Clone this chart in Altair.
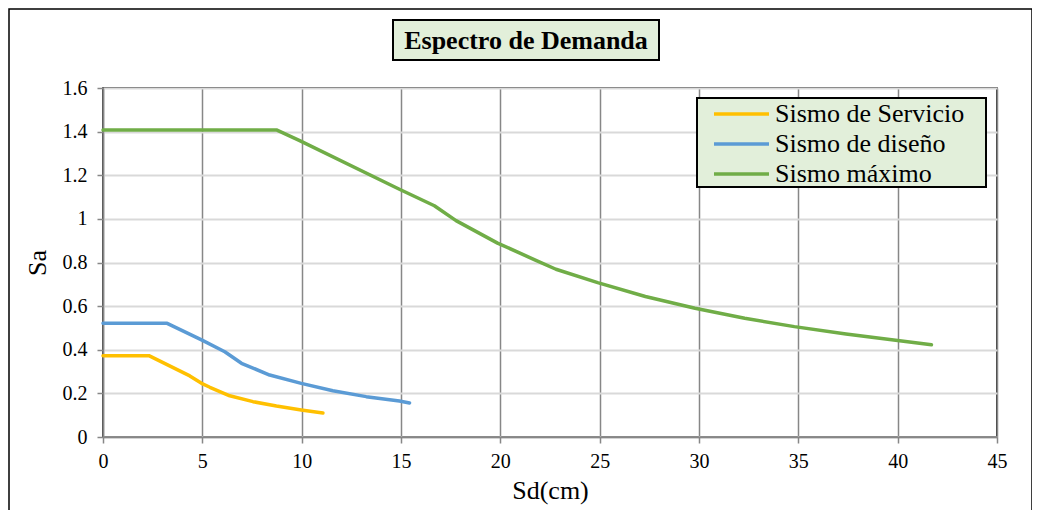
import altair as alt
import pandas as pd

series_names = ["Sismo de Servicio", "Sismo de diseño", "Sismo máximo"]
series_colors = ["#FFC000", "#5B9BD5", "#70AD47"]

servicio_sd = [0, 2.31, 4.37, 4.96, 5.38, 6.38, 7.55, 8.73, 9.98, 11.07]
servicio_sa = [0.373, 0.373, 0.28, 0.246, 0.228, 0.189, 0.162, 0.142, 0.124, 0.110]

diseno_sd = [0, 3.23, 4.96, 6.13, 6.97, 8.39, 9.98, 11.57, 13.25, 14.92, 15.43]
diseno_sa = [0.521, 0.521, 0.445, 0.391, 0.338, 0.284, 0.246, 0.212, 0.185, 0.165, 0.156]

maximo_sd = [0, 8.73, 9.9, 14.92, 16.68, 17.77, 19.86, 21.79, 22.8, 24.9, 27.3, 29.8, 32.3, 34.8, 37.4, 39.8, 41.7]
maximo_sa = [1.408, 1.408, 1.359, 1.136, 1.06, 0.992, 0.889, 0.81, 0.769, 0.708, 0.644, 0.59, 0.544, 0.506, 0.472, 0.445, 0.423]

x_ticks = [0, 5, 10, 15, 20, 25, 30, 35, 40, 45]
y_ticks = [0, 0.2, 0.4, 0.6, 0.8, 1.0, 1.2, 1.4, 1.6]

chart_title = "Espectro de Demanda"

rows = []
for name, sds, sas in zip(series_names,
                          [servicio_sd, diseno_sd, maximo_sd],
                          [servicio_sa, diseno_sa, maximo_sa]):
    for i, (a, b) in enumerate(zip(sds, sas)):
        rows.append({"serie": name, "Sd": a, "Sa": b, "orden": i})
df = pd.DataFrame(rows)

SERIF = "Liberation Serif"
GRID_DARK = "#878787"
BOX_FILL = "#E2EFDA"

common_axis = dict(
    domainColor=GRID_DARK, domainWidth=1.5,
    tickColor=GRID_DARK, tickSize=6, tickWidth=1.5,
    labelFont=SERIF, labelFontSize=20, labelColor="black", labelFlush=False,
    titleFont=SERIF, titleFontSize=26, titleFontWeight="normal", titleColor="black",
)

title_df = pd.DataFrame({"t": [chart_title]})

# legend background box (decoration behind the legend entries)
legend_box = alt.Chart(title_df).mark_rect(fill=BOX_FILL, stroke="black", strokeWidth=2).encode(
    x=alt.value(594), x2=alt.value(883), y=alt.value(10), y2=alt.value(99))

lines = alt.Chart(df).mark_line(strokeWidth=3.5, strokeCap="round", strokeJoin="round").encode(
    x=alt.X("Sd:Q",
            scale=alt.Scale(domain=[0, 45], nice=False, zero=False),
            axis=alt.Axis(values=x_ticks, title="Sd(cm)", format="~g",
                          gridColor=GRID_DARK, gridWidth=1.5,
                          labelPadding=8, titlePadding=6, **common_axis)),
    y=alt.Y("Sa:Q",
            scale=alt.Scale(domain=[0, 1.6], nice=False),
            axis=alt.Axis(values=y_ticks, title="Sa", format="~g",
                          gridColor="#D9D9D9", gridWidth=2,
                          labelPadding=10, titlePadding=12, **common_axis)),
    color=alt.Color("serie:N",
                    scale=alt.Scale(domain=series_names, range=series_colors),
                    legend=alt.Legend(title=None, orient="none", legendX=590, legendY=10,
                                      padding=3, rowPadding=4,
                                      symbolType="M0.714,0H8.571", symbolSize=196,
                                      symbolStrokeWidth=3.5, labelOffset=53,
                                      labelLimit=400,
                                      labelFont=SERIF, labelFontSize=26, labelColor="black")),
    order="orden:Q",
)

title_box = alt.Chart(title_df).mark_rect(fill=BOX_FILL, stroke="black", strokeWidth=2).encode(
    x=alt.value(290), x2=alt.value(556), y=alt.value(-68), y2=alt.value(-28))
title_text = alt.Chart(title_df).mark_text(font=SERIF, fontSize=26, fontWeight="bold", color="black",
                                           baseline="middle", align="center").encode(
    x=alt.value(423), y=alt.value(-47), text="t:N")
frame = alt.Chart(title_df).mark_rect(fill=None, stroke="black", strokeWidth=1.5).encode(
    x=alt.value(-94), x2=alt.value(929), y=alt.value(-79), y2=alt.value(440))

chart = alt.layer(frame, lines, legend_box, title_box, title_text).properties(
    width=894, height=349,
    autosize=alt.AutoSizeParams(type="none"),
    padding={"left": 95, "top": 80, "right": 35, "bottom": 73},
    background="white",
).configure_view(
    stroke="black", strokeWidth=1.5
)

chart.save("out.html", embed_options={"renderer": "svg", "actions": False})
